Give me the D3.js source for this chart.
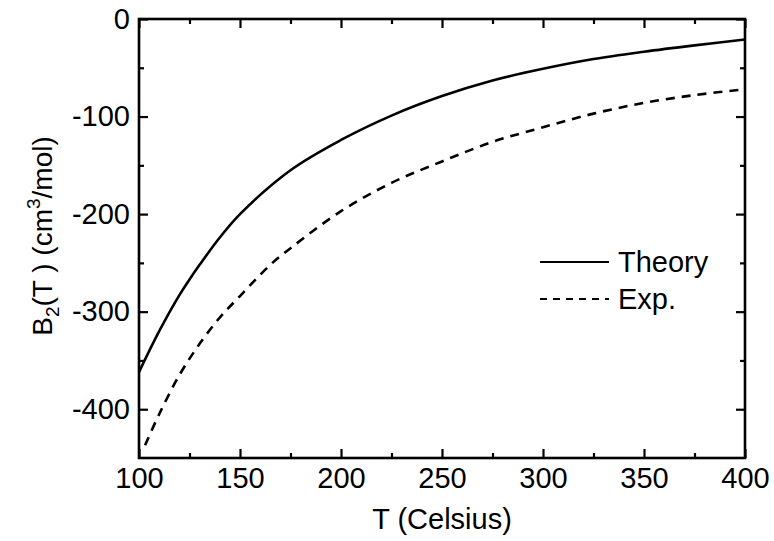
<!DOCTYPE html>
<html><head><meta charset="utf-8">
<script src="https://cdn.jsdelivr.net/npm/d3@7"></script>
<style>body{margin:0;background:#fff}svg{display:block}text{font-family:"Liberation Sans",Arial,sans-serif}</style>
</head><body><svg id="c" width="774" height="541"></svg>
<script>
const tempTheory = [100,110,120,125,130,140,150,175,200,225,250,275,300,325,350,375,400];
const theory     = [-362,-320,-283,-267,-252,-224,-200,-155,-124,-99,-79,-63,-51,-41,-33.5,-27,-21];
const tempExp    = [103,110,120,130,140,150,165,175,200,225,250,275,300,325,350,375,400];
const expv       = [-437,-405,-365,-333,-306,-284,-252,-235,-197,-168,-146,-126,-111,-97,-86,-78,-72];
const xTicks = [100,150,200,250,300,350,400];
const xMinor = [125,175,225,275,325,375];
const yTicks = [0,-100,-200,-300,-400];
const yMinor = [-50,-150,-250,-350];
const legendLabels = ["Theory","Exp."];

const L=139,R=745,T=19,B=458;
const svg=d3.select("#c");
const x=d3.scaleLinear().domain([100,400]).range([L,R]);
const y=d3.scaleLinear().domain([-450,0]).range([B,T]);
const fs=29;

function axis(gen, tr, ticks, size, labels){
  const g=svg.append("g").attr("transform",tr).call(gen.tickValues(ticks).tickSize(size).tickPadding(labels?9:0).tickFormat(labels?(d=>String(d)):""));
  g.select(".domain").remove();
  g.selectAll("line").attr("stroke","#000").attr("stroke-width",2.2);
  g.selectAll("text").attr("font-size",fs).attr("fill","#000").style("font-family","'Liberation Sans',Arial,sans-serif");
  return g;
}
axis(d3.axisBottom(x),`translate(0,${B})`,xTicks,-9,true);
axis(d3.axisBottom(x),`translate(0,${B})`,xMinor,-5,false);
axis(d3.axisTop(x),`translate(0,${T})`,xTicks,-9,false);
axis(d3.axisTop(x),`translate(0,${T})`,xMinor,-5,false);
axis(d3.axisLeft(y),`translate(${L},0)`,yTicks,-9,true);
axis(d3.axisLeft(y),`translate(${L},0)`,yMinor,-5,false);
axis(d3.axisRight(y),`translate(${R},0)`,yTicks,-9,false);
axis(d3.axisRight(y),`translate(${R},0)`,yMinor,-5,false);

svg.append("rect").attr("x",L).attr("y",T).attr("width",R-L).attr("height",B-T)
  .attr("fill","none").attr("stroke","#000").attr("stroke-width",2.6);

const line=d3.line().x(d=>x(d[0])).y(d=>y(d[1])).curve(d3.curveCatmullRom.alpha(0.5));
svg.append("path").datum(tempTheory.map((t,i)=>[t,theory[i]])).attr("d",line)
  .attr("fill","none").attr("stroke","#000").attr("stroke-width",2.6);
svg.append("path").datum(tempExp.map((t,i)=>[t,expv[i]])).attr("d",line)
  .attr("fill","none").attr("stroke","#000").attr("stroke-width",2.6).attr("stroke-dasharray","9,7");

const lg=svg.append("g");
lg.append("line").attr("x1",540).attr("x2",609).attr("y1",262).attr("y2",262).attr("stroke","#000").attr("stroke-width",2);
lg.append("line").attr("x1",540).attr("x2",609).attr("y1",299).attr("y2",299).attr("stroke","#000").attr("stroke-width",2).attr("stroke-dasharray","7,6");
lg.append("text").attr("x",618).attr("y",272).attr("font-size",fs).text(legendLabels[0]);
lg.append("text").attr("x",618).attr("y",309).attr("font-size",fs).text(legendLabels[1]);

svg.append("text").attr("x",(L+R)/2).attr("y",529).attr("text-anchor","middle").attr("font-size",fs).text("T (Celsius)");
const yt=svg.append("text").attr("transform",`translate(52,236) rotate(-90)`).attr("text-anchor","middle").attr("font-size",28);
yt.append("tspan").text("B");
yt.append("tspan").attr("font-size",19).attr("dy",7).text("2");
yt.append("tspan").attr("dy",-7).text("(T ) (cm");
yt.append("tspan").attr("font-size",19).attr("dy",-12).text("3");
yt.append("tspan").attr("dy",12).text("/mol)");
</script></body></html>
